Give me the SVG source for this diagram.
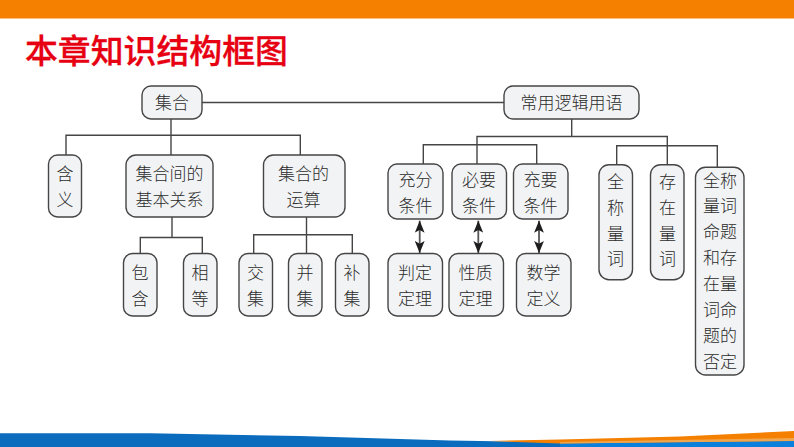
<svg xmlns="http://www.w3.org/2000/svg" width="794" height="447" viewBox="0 0 794 447">
  <style>
    .n { fill: #F2F3F5; stroke: #454545; stroke-width: 1.4; }
    .t { font-family: "Noto Sans CJK SC", "Noto Sans CJK JP", sans-serif; font-size: 17px; font-weight: 300; fill: #2B2B2B; text-anchor: middle; dominant-baseline: central; }
    .c { fill: none; stroke: #454545; stroke-width: 1.4; }
    .a { fill: none; stroke: #555555; stroke-width: 1.8; marker-start: url(#head); marker-end: url(#head); }
    .title { font-family: "Noto Sans CJK SC", sans-serif; font-size: 32.8px; font-weight: 500; fill: #E60012; stroke: #E60012; stroke-width: 0.3; }
  </style>
  <defs>
    <marker id="head" viewBox="0 0 11 9" refX="11" refY="4.5" markerUnits="userSpaceOnUse" markerWidth="12" markerHeight="10" orient="auto-start-reverse">
      <path d="M0 0L11 4.5L0 9L2.5 4.5Z" fill="#1E1E1E"/>
    </marker>
  </defs>
  <rect width="794" height="447" fill="#FFFFFF"/>
  <g id="bars">
    <rect x="0" y="0" width="794" height="18.5" fill="#F58000"/>
    <path d="M0 433.2L150 433.2L300 436L450 440.5L560 442.5L794 441L794 447L0 447Z" fill="#0B6CBE"/>
    <path d="M560 447L560 443L794 441L794 447Z" fill="#0A7FDC"/>
    <path d="M490 441L560 439.5L680 436.5L794 431L794 441L560 443.5Z" fill="#F58000"/>
    <path d="M560 442L794 438L794 441L560 443.5Z" fill="#F0A64F"/>
  </g>
  <text class="title" x="25" y="63" textLength="263" lengthAdjust="spacingAndGlyphs">本章知识结构框图</text>

  <g id="connectors">
    <path class="c" d="M202 102.5H504"/>
    <path class="c" d="M171 119V155M66 155V135.3H300.3V155"/>
    <path class="c" d="M172 217V237.5M140.3 253.5V237.5H202.3V253.5"/>
    <path class="c" d="M306.5 217V253.5M253.7 253.5V234.7H352.3V253.5"/>
    <path class="c" d="M571.7 119V136.5M477 164V136.5H667.3V165"/>
    <path class="c" d="M423.3 164V144.7H536.7V164"/>
    <path class="c" d="M616.7 165V145.7H717.3V167.5"/>
    <path class="a" d="M419.7 220.7V253"/>
    <path class="a" d="M478.3 220.7V253"/>
    <path class="a" d="M539 220.7V253"/>
  </g>

  <g id="n1"><rect class="n" x="142" y="86" width="60" height="33" rx="9"/><text class="t" x="172" y="101.8" textLength="34">集合</text></g>
  <g id="n2"><rect class="n" x="504" y="86" width="135" height="33" rx="9"/><text class="t" x="571.5" y="101.8">常用逻辑用语</text></g>

  <g id="n3"><rect class="n" x="48.5" y="155" width="33" height="62" rx="9"/><text class="t" x="65" y="172.3">含</text><text class="t" x="65" y="198.3">义</text></g>
  <g id="n4"><rect class="n" x="126" y="155" width="87" height="62" rx="10"/><text class="t" x="169.5" y="172.3">集合间的</text><text class="t" x="169.5" y="198.3">基本关系</text></g>
  <g id="n5"><rect class="n" x="263.5" y="155" width="81.5" height="62" rx="10"/><text class="t" x="303.5" y="172.3">集合的</text><text class="t" x="303.5" y="198.3">运算</text></g>

  <g id="n6"><rect class="n" x="123.5" y="253.5" width="33.5" height="62.5" rx="9"/><text class="t" x="140" y="271.3">包</text><text class="t" x="140" y="297.3">含</text></g>
  <g id="n7"><rect class="n" x="183.5" y="253.5" width="33.5" height="62.5" rx="9"/><text class="t" x="200" y="271.3">相</text><text class="t" x="200" y="297.3">等</text></g>
  <g id="n8"><rect class="n" x="239" y="253.5" width="33.5" height="62.5" rx="9"/><text class="t" x="255.5" y="271.3">交</text><text class="t" x="255.5" y="297.3">集</text></g>
  <g id="n9"><rect class="n" x="288.5" y="253.5" width="33.5" height="62.5" rx="9"/><text class="t" x="305" y="271.3">并</text><text class="t" x="305" y="297.3">集</text></g>
  <g id="n10"><rect class="n" x="335.5" y="253.5" width="33.5" height="62.5" rx="9"/><text class="t" x="352" y="271.3">补</text><text class="t" x="352" y="297.3">集</text></g>

  <g id="n11"><rect class="n" x="388" y="164" width="55" height="55" rx="9"/><text class="t" x="415.5" y="178.3">充分</text><text class="t" x="415.5" y="204.3">条件</text></g>
  <g id="n12"><rect class="n" x="452" y="164" width="54.5" height="55" rx="9"/><text class="t" x="479" y="178.3">必要</text><text class="t" x="479" y="204.3">条件</text></g>
  <g id="n13"><rect class="n" x="513.5" y="164" width="54.5" height="55" rx="9"/><text class="t" x="540.5" y="178.3">充要</text><text class="t" x="540.5" y="204.3">条件</text></g>

  <g id="n14"><rect class="n" x="388" y="253.5" width="54.5" height="62.5" rx="9"/><text class="t" x="415" y="271.3">判定</text><text class="t" x="415" y="297.3">定理</text></g>
  <g id="n15"><rect class="n" x="449" y="253.5" width="54.5" height="62.5" rx="9"/><text class="t" x="475.5" y="271.3">性质</text><text class="t" x="475.5" y="297.3">定理</text></g>
  <g id="n16"><rect class="n" x="516.5" y="253.5" width="54.5" height="62.5" rx="9"/><text class="t" x="543.5" y="271.3">数学</text><text class="t" x="543.5" y="297.3">定义</text></g>

  <g id="n17"><rect class="n" x="599" y="164.7" width="33.5" height="115" rx="10"/><text class="t" x="615.5" y="180.3">全</text><text class="t" x="615.5" y="206">称</text><text class="t" x="615.5" y="232">量</text><text class="t" x="615.5" y="257.3">词</text></g>
  <g id="n18"><rect class="n" x="650.5" y="164.7" width="33.5" height="115" rx="10"/><text class="t" x="667.5" y="180.3">存</text><text class="t" x="667.5" y="206">在</text><text class="t" x="667.5" y="232">量</text><text class="t" x="667.5" y="257.3">词</text></g>
  <g id="n19"><rect class="n" x="695.5" y="167.3" width="48.5" height="207.7" rx="10"/><text class="t" x="720" y="179.3">全称</text><text class="t" x="720" y="204.8">量词</text><text class="t" x="720" y="230.3">命题</text><text class="t" x="720" y="256.8">和存</text><text class="t" x="720" y="282.3">在量</text><text class="t" x="720" y="308.3">词命</text><text class="t" x="720" y="334.3">题的</text><text class="t" x="720" y="360.3">否定</text></g>
</svg>
